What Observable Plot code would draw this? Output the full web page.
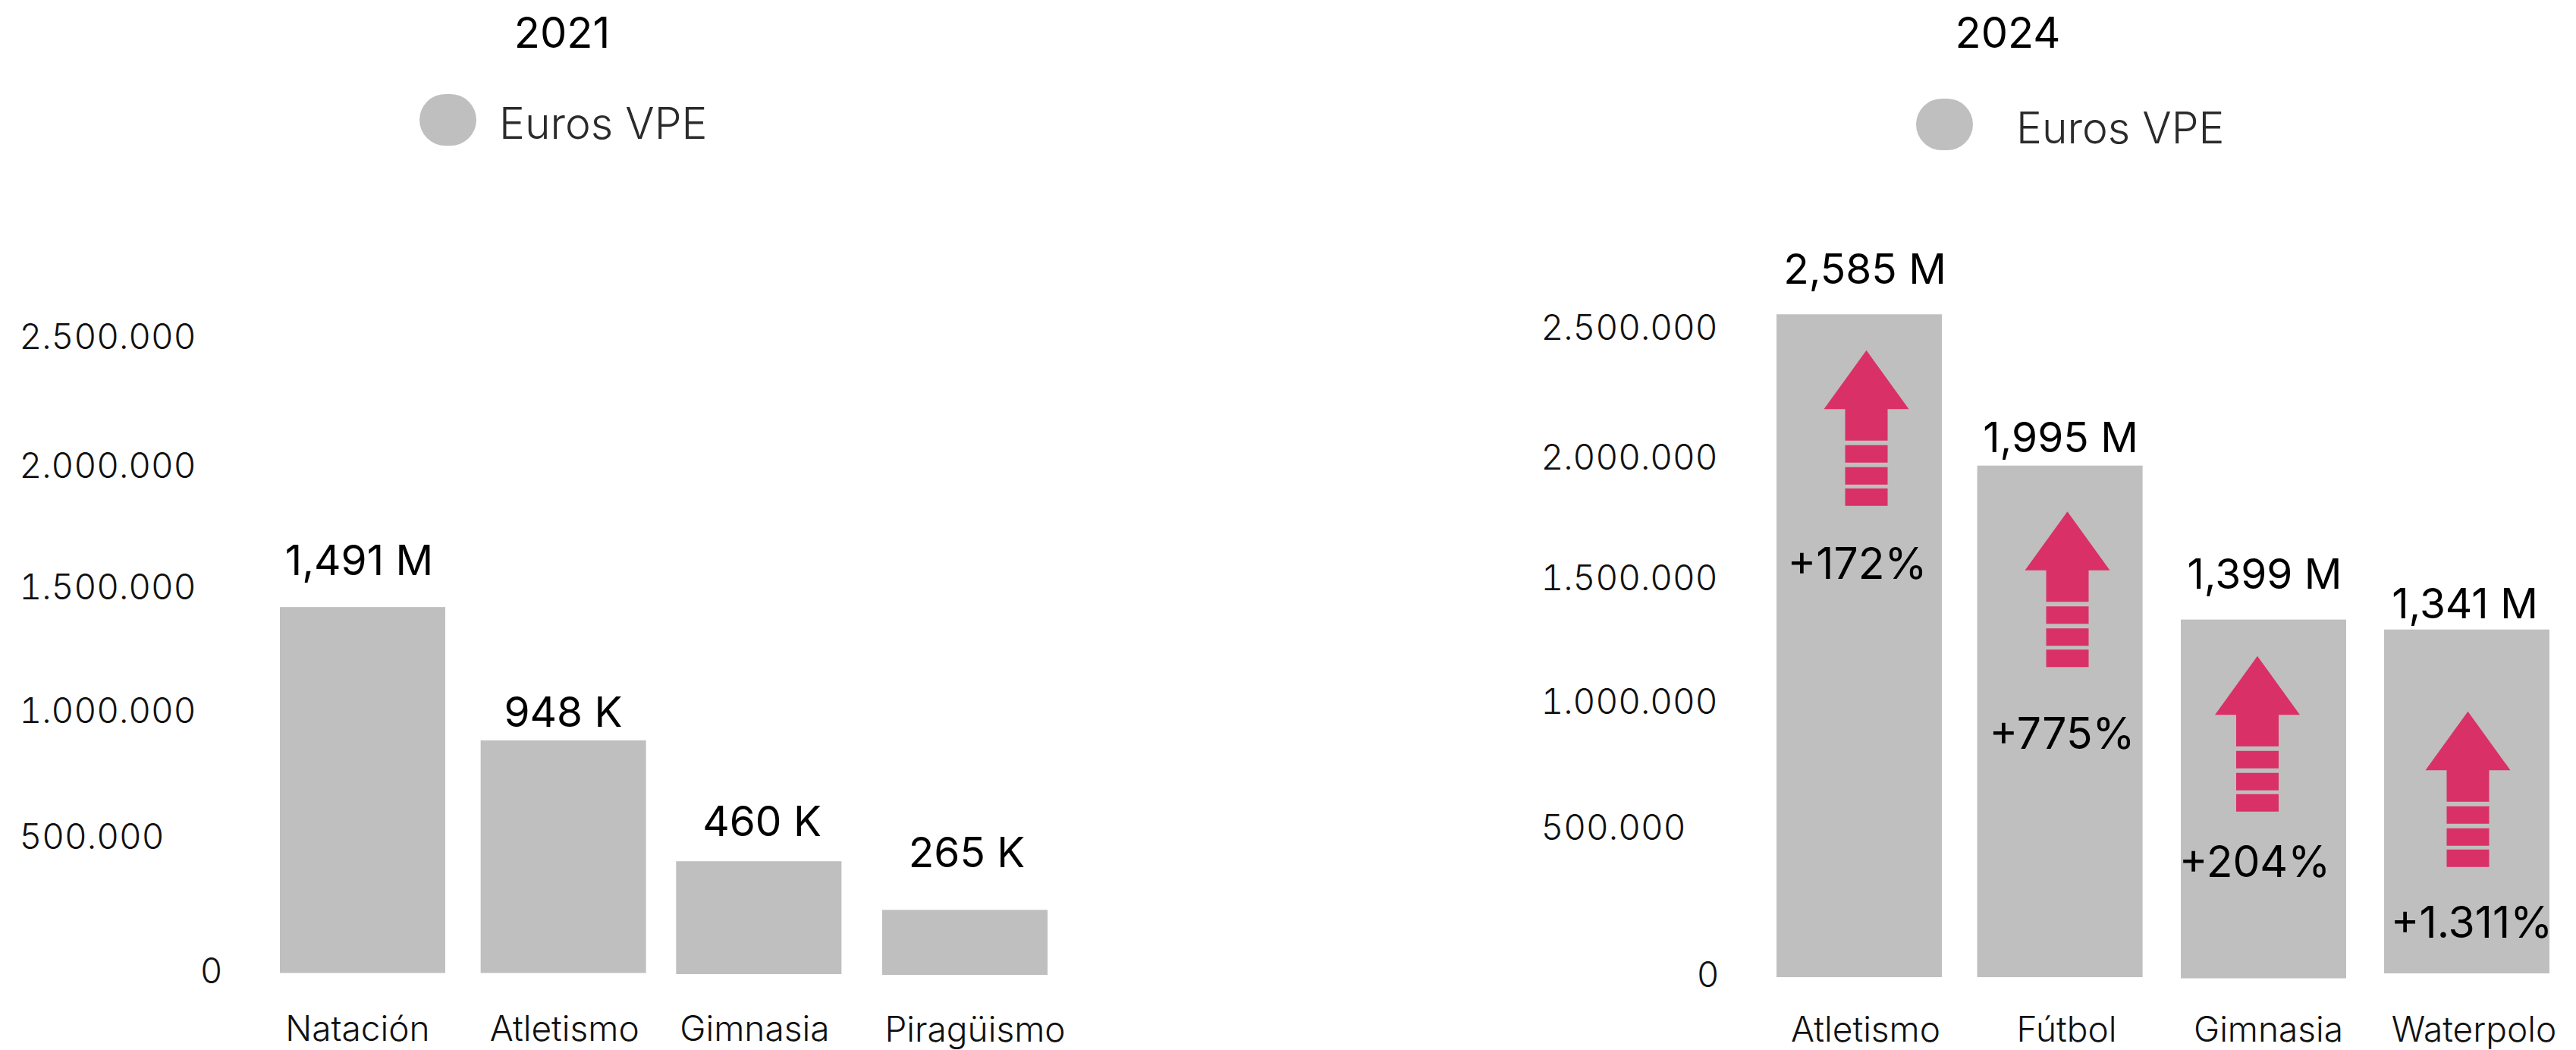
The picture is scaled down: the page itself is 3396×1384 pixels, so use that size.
<!DOCTYPE html>
<html lang="es">
<head>
<meta charset="utf-8">
<title>Euros VPE por deporte, 2021 y 2024</title>
<script src="https://cdn.jsdelivr.net/npm/d3@7"></script>
<script src="https://cdn.jsdelivr.net/npm/@observablehq/plot@0.6"></script>
<style>
  html, body { margin: 0; background: #fff; }
  #page { position: relative; width: 3396px; height: 1384px; overflow: hidden; font-family: Inter, sans-serif; }
  #page svg { position: absolute; top: 200px; }
  .year, .legend-text { position: absolute; white-space: nowrap; line-height: 1; }
  .year { font-size: 56px; color: #000; transform: translateX(-50%); }
  .legend-text { font-size: 57px; color: #2b2b2b; font-weight: 300; }
  .swatch { position: absolute; width: 75px; height: 68px; border-radius: 34px; background: #bfbfbf; }
</style>
</head>
<body>
<div id="page"></div>
<script>
// Valores de cada panel
const years = ["2021", "2024"];
const legendLabel = "Euros VPE";
const yTicks = [0, 500000, 1000000, 1500000, 2000000, 2500000];

const sports2021 = ["Natación", "Atletismo", "Gimnasia", "Piragüismo"];
const values2021 = [1491000, 948000, 460000, 265000];

const sports2024 = ["Atletismo", "Fútbol", "Gimnasia", "Waterpolo"];
const values2024 = [2585000, 1995000, 1399000, 1341000];
const growth2024 = [172, 775, 204, 1311];

// Formato numérico español: miles con punto, decimales con coma
const es = d3.formatLocale({decimal: ",", thousands: ".", grouping: [3]});
const tickText = es.format(",d");
const valueText = (v) => v >= 1e6
  ? es.format(".3f")(v / 1e6) + " M"
  : es.format("d")(v / 1e3) + " K";
const growthText = (g) => "+" + es.format(",d")(g) + "%";

// Flecha de crecimiento: punta, cuerpo y tres bloques, centrada en su origen
const arrowSymbol = {
  draw(ctx) {
    ctx.moveTo(0, -102.5);
    ctx.lineTo(56, -25);
    ctx.lineTo(28, -25);
    ctx.lineTo(28, 16.5);
    ctx.lineTo(-28, 16.5);
    ctx.lineTo(-28, -25);
    ctx.lineTo(-56, -25);
    ctx.closePath();
    for (const [a, b] of [[22.5, 45.5], [51.5, 74.5], [79.5, 102.5]]) {
      ctx.moveTo(-28, a);
      ctx.lineTo(28, a);
      ctx.lineTo(28, b);
      ctx.lineTo(-28, b);
      ctx.closePath();
    }
  }
};

const FONT = "Inter, sans-serif";

function panel({sports, values, growth, layout}) {
  const rows = sports.map((sport, i) => ({sport, value: values[i], growth: growth ? growth[i] : null}));
  const marks = [];

  rows.forEach((row, i) => {
    marks.push(Plot.barY([row], {
      x: "sport", y: "value", fill: "#bfbfbf",
      dx: layout.barDx[i], dy: layout.barDy[i]
    }));
  });

  yTicks.forEach((tick, i) => {
    const zero = tick === 0;
    marks.push(Plot.axisY({
      ticks: [tick], tickFormat: tickText, tickSize: 0, label: null,
      textAnchor: zero ? "end" : "start",
      tickPadding: zero ? 76 : layout.tickPadding,
      dy: layout.tickDy[i],
      fontSize: 46, fontWeight: 300, fill: "#111"
    }));
  });

  sports.forEach((sport, i) => {
    marks.push(Plot.axisX({
      ticks: [sport], tickSize: 0, label: null, lineAnchor: "middle",
      tickPadding: layout.catPadding,
      dx: layout.catDx[i], dy: layout.catDy[i],
      fontSize: 46, fontWeight: 300, fill: "#111"
    }));
  });

  rows.forEach((row, i) => {
    marks.push(Plot.text([row], {
      x: "sport", y: "value", text: (d) => valueText(d.value),
      dx: layout.valueDx[i], dy: layout.valueDy[i],
      fontSize: 55, fill: "#000"
    }));
    if (growth) {
      marks.push(Plot.dot([row], {
        x: "sport", y: "value", symbol: arrowSymbol, fill: "#d93167", stroke: "none",
        dx: layout.arrowDx[i], dy: layout.arrowDy[i]
      }));
      marks.push(Plot.text([row], {
        x: "sport", y: "value", text: (d) => growthText(d.growth),
        dx: layout.growthDx[i], dy: layout.growthDy[i],
        fontSize: 57, fill: "#000"
      }));
    }
  });

  const svg = Plot.plot({
    width: layout.width, height: 1184,
    marginLeft: layout.marginLeft, marginRight: layout.marginRight,
    marginTop: layout.marginTop, marginBottom: layout.marginBottom,
    x: {type: "band", domain: sports, paddingInner: layout.paddingInner, paddingOuter: 0, round: false, axis: null},
    y: {domain: [0, 3000000], axis: null},
    style: {fontFamily: FONT, background: "transparent", overflow: "visible"},
    marks
  });
  svg.style.left = layout.left + "px";
  return svg;
}

function addHeader(page, year, h) {
  const title = document.createElement("div");
  title.className = "year";
  title.textContent = year;
  title.style.left = h.titleX + "px";
  title.style.top = h.titleY + "px";
  const swatch = document.createElement("div");
  swatch.className = "swatch";
  swatch.style.left = h.swatchX + "px";
  swatch.style.top = h.swatchY + "px";
  const text = document.createElement("div");
  text.className = "legend-text";
  text.textContent = legendLabel;
  text.style.left = h.textX + "px";
  text.style.top = h.textY + "px";
  page.append(title, swatch, text);
}

const page = document.getElementById("page");

addHeader(page, years[0], {titleX: 741, titleY: 15, swatchX: 553, swatchY: 124, textX: 658, textY: 134});
addHeader(page, years[1], {titleX: 2647, titleY: 15, swatchX: 2526, swatchY: 130, textX: 2658, textY: 140});

page.append(panel({
  sports: sports2021, values: values2021,
  layout: {
    left: 0, width: 1600, marginLeft: 369, marginRight: 219,
    marginTop: 112, marginBottom: 101.5, paddingInner: 0.1763,
    tickPadding: 344, tickDy: [-1.5, -17, -21, -22, -20.5, -29],
    barDx: [0, 0, -7, 0], barDy: [0, 0, 1.5, 2.5],
    catPadding: 74.5, catDx: [-7, 1, -13, 13], catDy: [0, 0, 0, 1],
    valueDx: [-5, -0.7, -3.3, 2], valueDy: [-60, -36, -50, -72]
  }
}));

page.append(panel({
  sports: sports2024, values: values2024, growth: growth2024,
  layout: {
    left: 1950, width: 1446, marginLeft: 392, marginRight: 35,
    marginTop: 74, marginBottom: 96, paddingInner: 0.1835,
    tickPadding: 311, tickDy: [-2, -27, -24, -18, -8, -10],
    barDx: [0, -2.4, -1, 0], barDy: [0, 0, 1.5, -5],
    catPadding: 69.5, catDx: [8, 6, 5, 9], catDy: [0, 0, 0, 0],
    valueDx: [7, -2, 0, -3], valueDy: [-58, -36, -57, -38],
    arrowDx: [9, 7, -9.5, 1], arrowDy: [149.5, 162.5, 151.5, 205],
    growthDx: [-3, 0, -13, 6], growthDy: [330, 355, 322, 383]
  }
}));
</script>
</body>
</html>
